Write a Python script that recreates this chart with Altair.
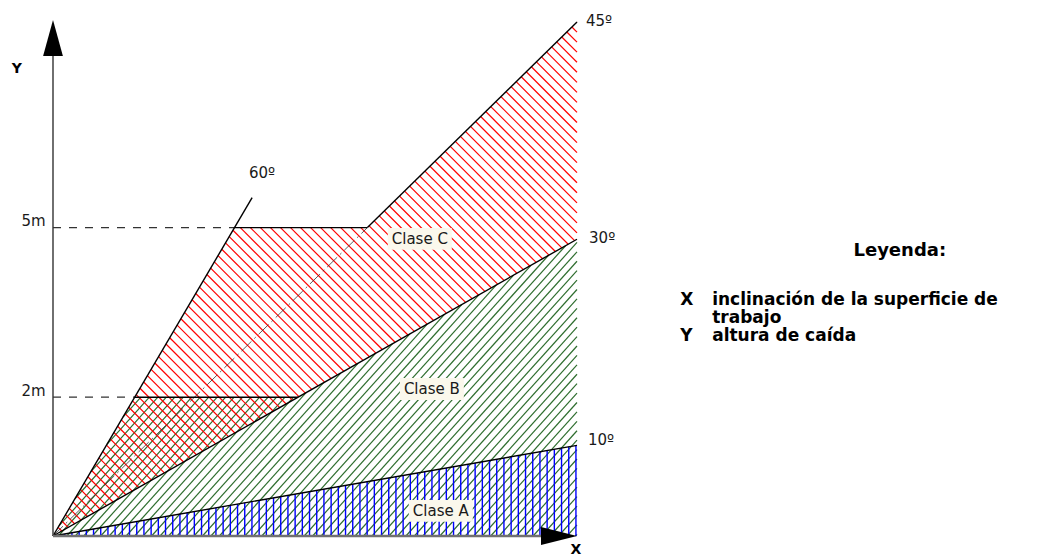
import math
import pandas as pd
import altair as alt

# ---------------- data ----------------
ANGLES = [10, 30, 45, 60]
ANGLE_LABELS = ["10º", "30º", "45º", "60º"]
ANGLE_LABEL_X = [10.21, 10.23, 10.17, 3.74]
ANGLE_LABEL_Y = [1.87, 5.80, 10.02, 7.06]
X_RIGHT = 10.0          # right end of the inclined lines
LINE60_END_X = 3.80     # the 60º line stops here

LEVELS = [2.7, 6.0]     # heights of the 2m and 5m lines (diagram units)
LEVEL_LABELS = ["2m", "5m"]
LEVEL_LABEL_Y = [2.82, 6.13]

CLASSES = ["Clase A", "Clase B", "Clase C"]
CLASS_X = [7.40, 7.23, 7.00]
CLASS_Y = [0.49, 2.86, 5.78]

AXIS_NAMES = ["Y", "X"]
AXIS_NAME_X = [-0.69, 9.98]
AXIS_NAME_Y = [9.09, -0.27]
Y_TIP = 10.04
X_TIP = 10.0

LEG_TITLE = ["Leyenda:"]
LEG_TITLE_X = [16.16]
LEG_TITLE_Y = [5.55]
LEG_KEYS = ["X", "", "Y"]
LEG_TEXTS = ["inclinación de la superficie de", "trabajo", "altura de caída"]
LEG_ROW_Y = [4.59, 4.24, 3.89]
LEG_KEY_X = 11.97
LEG_TEXT_X = 12.58

# ---------------- layout ----------------
W, H = 1044, 552
SX, SY = 52.4, 51.4      # px per diagram unit
X_DOMAIN = [-45 / SX, (W - 45) / SX]
Y_DOMAIN = [-(H - 528) / SY, 528 / SY]
xs = alt.Scale(domain=X_DOMAIN, nice=False, zero=False)
ys = alt.Scale(domain=Y_DOMAIN, nice=False, zero=False)

tn = {a: math.tan(math.radians(a)) for a in ANGLES}
P2, P5 = LEVELS

red_poly = [(0, 0), (P5 / tn[60], P5), (P5 / tn[45], P5),
            (X_RIGHT, X_RIGHT * tn[45]), (X_RIGHT, X_RIGHT * tn[30])]
green_poly = [(0, 0), (P2 / tn[60], P2), (P2 / tn[30], P2),
              (X_RIGHT, X_RIGHT * tn[30]), (X_RIGHT, 0)]
blue_poly = [(0, 0), (X_RIGHT, X_RIGHT * tn[10]), (X_RIGHT, 0)]


def hatch(poly, theta_deg, spacing, offset=0.37):
    pts = [(x * SX, y * SY) for x, y in poly]
    th = math.radians(theta_deg)
    u = (math.cos(th), math.sin(th))
    n = (-math.sin(th), math.cos(th))
    cs = [n[0] * px + n[1] * py for px, py in pts]
    k = math.floor(min(cs) / spacing)
    rows = []
    while True:
        c = (k + offset) * spacing
        k += 1
        if c > max(cs):
            break
        ts = []
        for i in range(len(pts)):
            a = pts[i]
            b = pts[(i + 1) % len(pts)]
            na = n[0] * a[0] + n[1] * a[1]
            nb = n[0] * b[0] + n[1] * b[1]
            if (na <= c < nb) or (nb <= c < na):
                s = (c - na) / (nb - na)
                p = (a[0] + s * (b[0] - a[0]), a[1] + s * (b[1] - a[1]))
                ts.append(u[0] * p[0] + u[1] * p[1])
        ts.sort()
        for j in range(0, len(ts) - 1, 2):
            p0 = (c * n[0] + ts[j] * u[0], c * n[1] + ts[j] * u[1])
            p1 = (c * n[0] + ts[j + 1] * u[0], c * n[1] + ts[j + 1] * u[1])
            rows.append({"x": p0[0] / SX, "y": p0[1] / SY,
                         "x2": p1[0] / SX, "y2": p1[1] / SY})
    return pd.DataFrame(rows)


def X(f="x"):
    return alt.X(f, type="quantitative", scale=xs, axis=None)


def Y(f="y"):
    return alt.Y(f, type="quantitative", scale=ys, axis=None)


def seg_layer(df, **mk):
    return alt.Chart(df).mark_rule(**mk).encode(
        x=X("x"), y=Y("y"), x2="x2:Q", y2="y2:Q")


green_h = seg_layer(hatch(green_poly, 48, 6.3), color="#2f6e2f", strokeWidth=1.2)
blue_h = seg_layer(hatch(blue_poly, 90, 7.2), color="#0000ff", strokeWidth=1.4)
red_h = seg_layer(hatch(red_poly, -45, 7.1), color="#ff0000", strokeWidth=1.2)


def segs(lst):
    return pd.DataFrame([{"x": a, "y": b, "x2": c, "y2": d} for a, b, c, d in lst])


solid = segs([
    (0, 0, LINE60_END_X, LINE60_END_X * tn[60]),
    (0, 0, X_RIGHT, X_RIGHT * tn[30]),
    (0, 0, X_RIGHT, X_RIGHT * tn[10]),
    (P5 / tn[45], P5, X_RIGHT, X_RIGHT * tn[45]),
    (P5 / tn[60], P5, P5 / tn[45], P5),
    (P2 / tn[60], P2, P2 / tn[30], P2),
])
dashed = segs([(0, P5, P5 / tn[60], P5), (0, P2, P2 / tn[60], P2)])
dashdot = segs([(0, 0, P5 / tn[45], P5)])
yaxis = segs([(0, 0, 0, Y_TIP - 35 / SY)])
xaxis = segs([(0, 0, X_TIP - 30 / SX, 0)])

solid_l = seg_layer(solid, color="#000000", strokeWidth=1.4)
dashed_l = seg_layer(dashed, color="#333333", strokeWidth=1.2, strokeDash=[8, 8])
dashdot_l = seg_layer(dashdot, color="#333333", strokeWidth=0.8, strokeDash=[14, 4, 2, 4])
yaxis_l = seg_layer(yaxis, color="#333333", strokeWidth=1.4)
xaxis_l = seg_layer(xaxis, color="#707070", strokeWidth=2.5)

arrows = pd.DataFrame({
    "x": [0, X_TIP - 18 / SX],
    "y": [Y_TIP - 18 / SY, 0],
    "dir": ["up", "right"],
})
arrow_up = alt.Chart(arrows[arrows.dir == "up"]).mark_point(
    shape="M0,-1L0.55,1L-0.55,1Z", size=1296, filled=True,
    color="#000000", opacity=1, strokeWidth=0).encode(x=X(), y=Y())
arrow_right = alt.Chart(arrows[arrows.dir == "right"]).mark_point(
    shape="M1,0L-1,-0.5L-1,0.5Z", size=1296, filled=True,
    color="#000000", opacity=1, strokeWidth=0).encode(x=X(), y=Y())

cls = pd.DataFrame({"label": CLASSES, "x": CLASS_X, "y": CLASS_Y})
cls_box = alt.Chart(cls).mark_point(
    shape="M-1,-0.34L1,-0.34L1,0.34L-1,0.34Z", size=4096, filled=True,
    color="#fbf8ec", opacity=1, strokeWidth=0).encode(x=X(), y=Y())
cls_txt = alt.Chart(cls).mark_text(
    font="DejaVu Sans", fontSize=15, color="#1a1a1a", align="center",
    baseline="middle").encode(x=X(), y=Y(), text="label:N")

ang = pd.DataFrame({"label": ANGLE_LABELS, "x": ANGLE_LABEL_X, "y": ANGLE_LABEL_Y})
ang_txt = alt.Chart(ang).mark_text(
    font="DejaVu Sans", fontSize=15, color="#1a1a1a", align="left",
    baseline="middle").encode(x=X(), y=Y(), text="label:N")

lev = pd.DataFrame({"label": LEVEL_LABELS, "x": [-0.14, -0.14], "y": LEVEL_LABEL_Y})
lev_txt = alt.Chart(lev).mark_text(
    font="DejaVu Sans", fontSize=15, color="#1a1a1a", align="right",
    baseline="middle").encode(x=X(), y=Y(), text="label:N")

axn = pd.DataFrame({"label": AXIS_NAMES, "x": AXIS_NAME_X, "y": AXIS_NAME_Y})
axn_txt = alt.Chart(axn).mark_text(
    font="DejaVu Sans", fontSize=14, fontWeight="bold", color="#000000",
    align="center", baseline="middle").encode(x=X(), y=Y(), text="label:N")

legt = pd.DataFrame({"label": LEG_TITLE, "x": LEG_TITLE_X, "y": LEG_TITLE_Y})
legt_txt = alt.Chart(legt).mark_text(
    font="DejaVu Sans", fontSize=18, fontWeight="bold", color="#000000",
    align="center", baseline="middle").encode(x=X(), y=Y(), text="label:N")

legk = pd.DataFrame({"label": LEG_KEYS, "x": [LEG_KEY_X] * 3, "y": LEG_ROW_Y})
legk_txt = alt.Chart(legk).mark_text(
    font="DejaVu Sans", fontSize=17, fontWeight="bold", color="#000000",
    align="left", baseline="middle").encode(x=X(), y=Y(), text="label:N")

legx = pd.DataFrame({"label": LEG_TEXTS, "x": [LEG_TEXT_X] * 3, "y": LEG_ROW_Y})
legx_txt = alt.Chart(legx).mark_text(
    font="DejaVu Sans", fontSize=17, fontWeight="bold", color="#000000",
    align="left", baseline="middle").encode(x=X(), y=Y(), text="label:N")

chart = alt.layer(
    green_h, blue_h, red_h,
    dashdot_l, dashed_l, solid_l, yaxis_l, xaxis_l,
    arrow_up, arrow_right,
    cls_box, cls_txt, ang_txt, lev_txt, axn_txt,
    legt_txt, legk_txt, legx_txt,
).properties(
    width=W, height=H, padding=0,
    autosize=alt.AutoSizeParams(type="none"),
).configure_view(stroke=None)

chart.save("out.html", embed_options={"renderer": "svg", "actions": False})
